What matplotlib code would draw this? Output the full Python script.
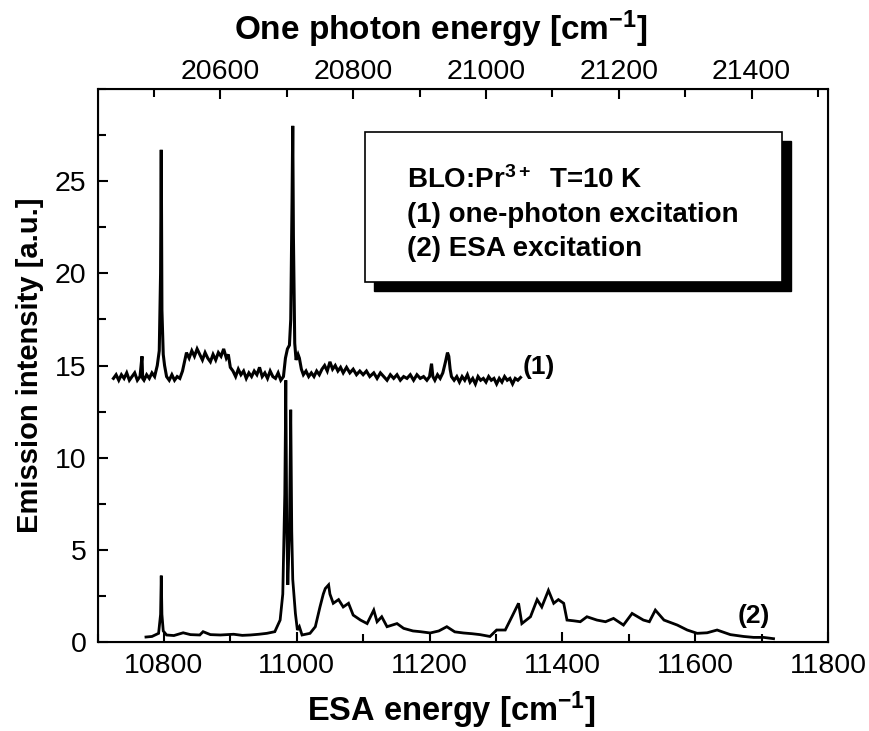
import matplotlib
matplotlib.use("Agg")
import matplotlib.pyplot as plt
from matplotlib.patches import Rectangle
from matplotlib.ticker import MultipleLocator

# ---- data ----
# curve (1): one-photon excitation, plotted against the ESA energy axis
e1 = [10724, 10728, 10732, 10736, 10740, 10744, 10748, 10752, 10756, 10760, 10764, 10767, 10768,
      10770, 10774, 10778, 10782, 10786, 10790, 10793, 10795, 10796, 10797, 10799, 10801, 10804,
      10808, 10812, 10816, 10820, 10824, 10828, 10831, 10834, 10838, 10842, 10846, 10850, 10854,
      10858, 10862, 10866, 10870, 10874, 10878, 10882, 10886, 10890, 10894, 10897, 10900, 10904,
      10908, 10912, 10916, 10920, 10924, 10928, 10932, 10936, 10940, 10944, 10948, 10952, 10956,
      10960, 10964, 10968, 10972, 10976, 10980, 10983, 10986, 10989, 10991, 10993, 10994, 10995,
      10997, 10999, 11002, 11004, 11007, 11010, 11014, 11018, 11022, 11026, 11030, 11034, 11038,
      11042, 11046, 11050, 11054, 11058, 11062, 11066, 11070, 11075, 11080, 11085, 11090, 11095,
      11100, 11105, 11110, 11116, 11121, 11126, 11131, 11136, 11141, 11146, 11151, 11156, 11161,
      11166, 11171, 11176, 11181, 11186, 11191, 11196, 11200, 11203, 11205, 11208, 11212, 11216,
      11220, 11224, 11227, 11229, 11231, 11233, 11237, 11241, 11245, 11249, 11253, 11257, 11261,
      11265, 11269, 11273, 11277, 11281, 11285, 11289, 11293, 11297, 11301, 11305, 11309, 11313,
      11317, 11321, 11325, 11329, 11333, 11337]
i1 = [14.3, 14.5, 14.2, 14.5, 14.3, 14.6, 14.2, 14.4, 14.6, 14.2, 14.4, 15.5, 14.3,
      14.2, 14.5, 14.3, 14.6, 14.4, 15.0, 15.8, 20.0, 26.7, 18.0, 15.6, 15.0, 14.4,
      14.2, 14.5, 14.2, 14.4, 14.3, 14.7, 15.2, 15.7, 15.4, 15.8, 15.5, 15.9, 15.6,
      15.3, 15.7, 15.4, 15.2, 15.6, 15.3, 15.7, 15.5, 15.9, 15.4, 15.6, 14.9, 14.7,
      14.4, 14.8, 14.5, 14.7, 14.3, 14.6, 14.4, 14.7, 14.5, 14.9, 14.4, 14.6, 14.3,
      14.7, 14.4, 14.3, 14.6, 14.2, 14.4, 15.4, 15.9, 16.1, 17.5, 24.0, 28.0, 22.0,
      16.2, 15.3, 15.6, 15.4, 14.8, 14.5, 14.7, 14.4, 14.6, 14.4, 14.7, 14.5, 14.8,
      15.0, 14.7, 15.2, 14.8, 15.0, 14.7, 14.9, 14.6, 14.9, 14.6, 14.8, 14.5, 14.7,
      14.5, 14.7, 14.4, 14.6, 14.3, 14.6, 14.4, 14.2, 14.5, 14.3, 14.5, 14.2, 14.4,
      14.3, 14.5, 14.2, 14.5, 14.3, 14.4, 14.2, 14.4, 15.1, 14.4, 14.2, 14.5, 14.3,
      14.6, 15.2, 15.7, 15.5, 14.8, 14.4, 14.2, 14.4, 14.1, 14.4, 14.2, 14.5, 14.1,
      14.3, 14.0, 14.4, 14.2, 14.3, 14.1, 14.4, 14.2, 14.3, 14.0, 14.3, 14.1, 14.4,
      14.2, 14.3, 14.0, 14.3, 14.2, 14.35]

# curve (2): ESA excitation
e2 = [10773, 10782, 10792, 10795, 10796, 10797, 10799, 10804, 10815, 10829, 10840, 10854, 10859,
      10870, 10885, 10905, 10918, 10930, 10943, 10955, 10967, 10975, 10979, 10982, 10983.6, 10985,
      10986.6, 10989, 10991, 10992.5, 10994, 10998, 11001, 11004, 11008, 11020, 11028, 11035,
      11040, 11043, 11048, 11050, 11055, 11063, 11070, 11078, 11085, 11096, 11106, 11116, 11121,
      11128, 11136, 11151, 11161, 11175, 11186, 11201, 11214, 11226, 11238, 11251, 11264, 11276,
      11291, 11301, 11314, 11324, 11334, 11339, 11352, 11362, 11369, 11379, 11387, 11394, 11402,
      11407, 11417, 11427, 11437, 11452, 11465, 11477, 11492, 11505, 11522, 11531, 11540, 11553,
      11573, 11588, 11603, 11618, 11633, 11653, 11673, 11688, 11703, 11718]
i2 = [0.27, 0.3, 0.47, 1.5, 3.6, 1.5, 0.6, 0.38, 0.35, 0.5, 0.4, 0.38, 0.56,
      0.4, 0.38, 0.42, 0.36, 0.38, 0.42, 0.47, 0.56, 1.19, 2.6, 8.0, 14.2, 6.0,
      3.1, 6.0, 12.6, 6.0, 3.4, 1.55, 0.65, 0.83, 0.38, 0.47, 0.83, 1.9,
      2.6, 2.9, 3.1, 2.6, 2.1, 2.3, 1.9, 2.1, 1.46, 1.19, 1.0, 1.73, 1.1,
      1.37, 0.83, 1.0, 0.74, 0.6, 0.56, 0.49, 0.6, 0.83, 0.55, 0.49, 0.45, 0.4,
      0.3, 0.65, 0.65, 1.37, 2.1, 1.0, 1.37, 2.3, 1.9, 2.8, 2.1, 2.3, 2.1,
      1.19, 1.15, 1.1, 1.37, 1.19, 1.1, 1.28, 0.92, 1.55, 1.19, 1.1, 1.73, 1.19,
      0.92, 0.65, 0.47, 0.5, 0.65, 0.4, 0.3, 0.25, 0.25, 0.18]

x_range = [10700, 11800]
y_range = [0, 30]
x_major = [10800, 11000, 11200, 11400, 11600, 11800]
y_major = [0, 5, 10, 15, 20, 25]
top_offset = 9715
top_major = [20600, 20800, 21000, 21200, 21400]

legend_lines = ["BLO:Pr$^{3+}$  T=10 K", "(1) one-photon excitation", "(2) ESA excitation"]

# ---- figure ----
plt.rcParams['font.family'] = ['Liberation Sans', 'DejaVu Sans']
plt.rcParams['mathtext.fontset'] = 'custom'
plt.rcParams['mathtext.rm'] = 'Liberation Sans'
plt.rcParams['mathtext.bf'] = 'Liberation Sans:bold'
plt.rcParams['mathtext.it'] = 'Liberation Sans:italic'
plt.rcParams['mathtext.default'] = 'bf'

fig = plt.figure(figsize=(8.69, 7.31), dpi=100)
ax = fig.add_axes([97.5 / 869, 1 - 642 / 731, (828 - 97.5) / 869, (642 - 89) / 731])

ax.plot(e1, i1, color='black', lw=2.2, solid_joinstyle='miter')
ax.plot(e2, i2, color='black', lw=2.0, solid_joinstyle='miter')

ax.set_xlim(*x_range)
ax.set_ylim(*y_range)
ax.set_xticks(x_major)
ax.set_yticks(y_major)
ax.xaxis.set_minor_locator(MultipleLocator(100))
ax.yaxis.set_minor_locator(MultipleLocator(2.5))
ax.tick_params(which='both', direction='in', width=1.5, top=False, right=False)
ax.tick_params(which='major', length=7, labelsize=20.5, pad=8)
ax.tick_params(which='minor', length=6)
for s in ax.spines.values():
    s.set_linewidth(1.5)

ax.set_xlabel("ESA energy [cm$^{-1}$]", fontsize=23.5, fontweight='bold')
ax.xaxis.set_label_coords(0.485, -0.086)
ax.set_ylabel("Emission intensity [a.u.]", fontsize=21, fontweight='bold', labelpad=8)

ax2 = ax.twiny()
ax2.set_xlim(x_range[0] + top_offset, x_range[1] + top_offset)
ax2.set_xticks(top_major)
ax2.xaxis.set_minor_locator(MultipleLocator(100))
ax2.tick_params(which='both', direction='in', width=1.5)
ax2.tick_params(which='major', length=7, labelsize=20.5, pad=3)
ax2.tick_params(which='minor', length=6)
ax2.set_xlabel("One photon energy [cm$^{-1}$]", fontsize=24, fontweight='bold')
ax2.xaxis.set_label_coords(0.47, 1.088)

# legend box with shadow
def px2ax(xp, yp):
    return ((xp - 97.5) / (828 - 97.5), (642 - yp) / (642 - 89))

bx0, by0 = px2ax(365, 282)
bx1, by1 = px2ax(782, 132)
sx0, sy0 = px2ax(374, 291)
ax.add_patch(Rectangle((sx0, sy0), bx1 - bx0, by1 - by0, transform=ax.transAxes,
                       facecolor='black', edgecolor='black', zorder=4))
ax.add_patch(Rectangle((bx0, by0), bx1 - bx0, by1 - by0, transform=ax.transAxes,
                       facecolor='white', edgecolor='black', lw=1.2, zorder=5))
for k, t in enumerate(legend_lines):
    tx, ty = px2ax(407, 188 + 34 * k)
    ax.text(tx, ty, t, transform=ax.transAxes, fontsize=20, fontweight='bold',
            va='baseline', ha='left', zorder=6)

ax.text(11340, 14.9, "(1)", fontsize=19, fontweight='bold', va='center', ha='left')
ax.text(11664, 1.4, "(2)", fontsize=19, fontweight='bold', va='center', ha='left')

fig.savefig("out.png", dpi=100)
